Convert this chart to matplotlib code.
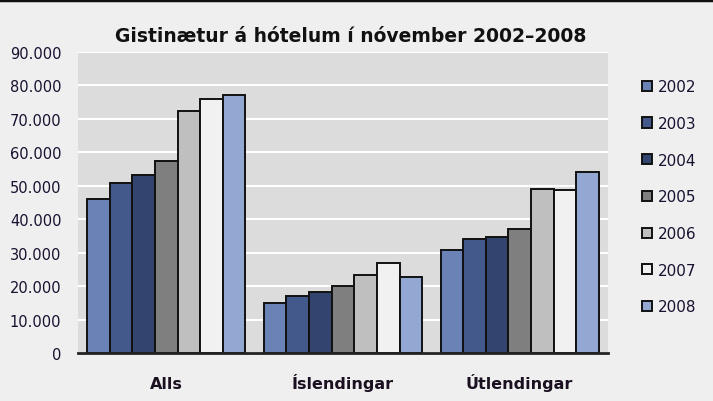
import numpy as np
import matplotlib.pyplot as plt
from matplotlib.ticker import FuncFormatter, MultipleLocator

plt.rcParams['font.family'] = ['Verdana', 'DejaVu Sans']

# data
categories = ['Alls', 'Íslendingar', 'Útlendingar']
years = ['2002', '2003', '2004', '2005', '2006', '2007', '2008']
values = {
    '2002': [45900, 15000, 30700],
    '2003': [50900, 16900, 34000],
    '2004': [53100, 18200, 34800],
    '2005': [57300, 20100, 37100],
    '2006': [72500, 23300, 49000],
    '2007': [76000, 26900, 48600],
    '2008': [77200, 22800, 54100],
}
colours = ['#6a82b6', '#43598c', '#33456f', '#7f7f7f', '#bfbfbf', '#f1f1f1', '#93a7d3']

fig = plt.figure(figsize=(7.13, 4.02), dpi=100, facecolor='#efefef')
ax = fig.add_axes([0.1094, 0.1194, 0.7433, 0.7488])
ax.set_facecolor('#dcdcdc')

# bars
x = np.arange(len(categories))
bar_w = 0.128
for i, year in enumerate(years):
    offset = (i - (len(years) - 1) / 2) * bar_w
    ax.bar(x + offset, values[year], width=bar_w, color=colours[i],
           edgecolor='#111111', linewidth=1.4, label=year, zorder=3)

# axes
ax.set_xlim(-0.5, 2.5)
ax.set_ylim(0, 90000)
ax.yaxis.set_major_locator(MultipleLocator(10000))
ax.yaxis.set_major_formatter(FuncFormatter(lambda v, p: '{:,.0f}'.format(v).replace(',', '.')))
ax.grid(axis='y', color='white', linewidth=1.5, zorder=0)
ax.set_xticks(x)
ax.set_xticklabels(categories, fontweight='bold', fontsize=11.5, color='#1a1020')
for lbl in ax.get_xticklabels():
    lbl.set_verticalalignment('baseline')
ax.tick_params(axis='x', length=0, pad=25)
ax.tick_params(axis='y', length=0, pad=12, labelsize=10.5, labelcolor='#1a1030')
for side in ['top', 'right', 'left']:
    ax.spines[side].set_visible(False)
ax.spines['bottom'].set_color('#222222')
ax.spines['bottom'].set_linewidth(2)
ax.spines['bottom'].set_zorder(4)

ax.set_title('Gistinætur á hótelum í nóvember 2002–2008', fontweight='bold',
             fontsize=13.5, color='#111111', pad=8, x=0.515)

# legend
leg = ax.legend(loc='upper left', bbox_to_anchor=(1.05, 0.935), frameon=False,
                fontsize=11, handlelength=0.65, handleheight=0.65, handletextpad=0.35,
                labelspacing=1.42, borderpad=0)
for t in leg.get_texts():
    t.set_color('#1a1030')

# top border line
fig.add_artist(plt.Line2D([0, 1], [0.997, 0.997], color='#111111', linewidth=2.5,
                          transform=fig.transFigure))

fig.savefig('out.png', dpi=100, facecolor=fig.get_facecolor())
